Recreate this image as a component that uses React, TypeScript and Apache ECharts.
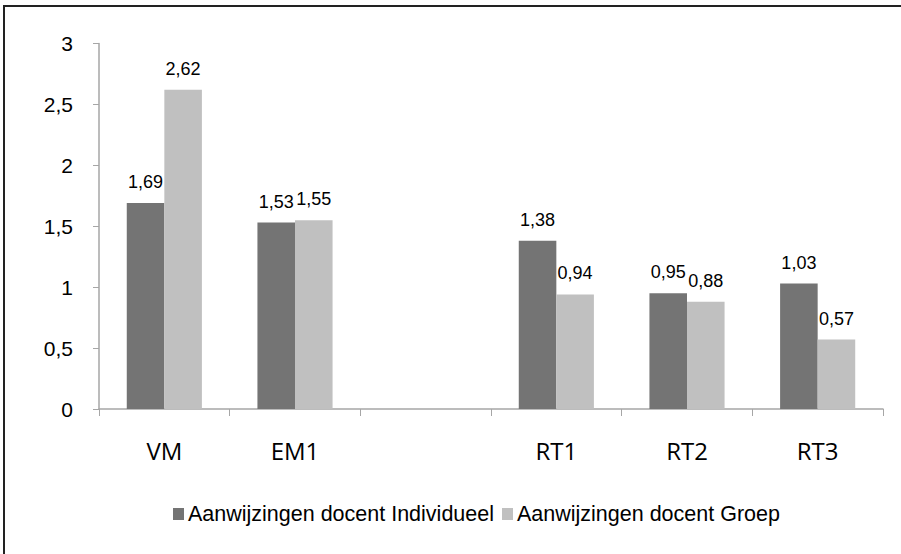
import React, { useEffect, useRef } from "react";
import * as echarts from "echarts";

const categories = ["VM", "EM1", "", "RT1", "RT2", "RT3"];
const individueel = [1.69, 1.53, null, 1.38, 0.95, 1.03];
const groep = [2.62, 1.55, null, 0.94, 0.88, 0.57];
const seriesNames = ["Aanwijzingen docent Individueel", "Aanwijzingen docent Groep"];

const fmt = (p: any) => (p.value == null ? "" : String(p.value).replace(".", ","));

export default function App() {
  const ref = useRef<HTMLDivElement>(null);
  useEffect(() => {
    const chart = echarts.init(ref.current!, null, { renderer: "svg" });
    const labelStyle = {
      show: true,
      position: "top" as const,
      distance: 12,
      formatter: fmt,
      fontFamily: "Liberation Sans, Arial",
      fontSize: 18,
      color: "#000",
    };
    chart.setOption({
      animation: false,
      backgroundColor: "#fff",
      graphic: [
        {
          type: "rect",
          shape: { x: 4, y: 6, width: 1000, height: 1000 },
          style: { fill: "none", stroke: "#222", lineWidth: 2 },
          silent: true,
        },
      ],
      grid: { left: 99, right: 18, top: 43.5, bottom: 145 },
      legend: {
        data: seriesNames,
        left: 173,
        top: 503,
        padding: 0,
        icon: "rect",
        itemWidth: 11,
        itemHeight: 12,
        itemGap: 8,
        textStyle: { fontFamily: "Liberation Sans, Arial", fontSize: 21.5, color: "#000", padding: [0, 0, 0, -1] },
      },
      xAxis: {
        type: "category",
        data: categories,
        axisLine: { lineStyle: { color: "#a6a6a6", width: 1.5 } },
        axisTick: { show: true, length: 7, lineStyle: { color: "#a6a6a6" } },
        axisLabel: { fontFamily: "Open Sans", fontSize: 24, color: "#000", margin: 29 },
      },
      yAxis: {
        type: "value",
        min: 0,
        max: 3,
        interval: 0.5,
        axisLine: { show: true, lineStyle: { color: "#a6a6a6", width: 1.5 } },
        axisTick: { show: true, length: 6, lineStyle: { color: "#a6a6a6" } },
        splitLine: { show: false },
        axisLabel: {
          fontFamily: "Liberation Sans, Arial",
          fontSize: 21,
          color: "#000",
          margin: 26,
          formatter: (v: number) => String(v).replace(".", ","),
        },
      },
      series: [
        {
          name: seriesNames[0],
          type: "bar",
          data: individueel,
          barGap: "0%",
          barCategoryGap: "42.5%",
          itemStyle: { color: "#747474" },
          label: labelStyle,
        },
        {
          name: seriesNames[1],
          type: "bar",
          data: groep,
          barGap: "0%",
          barCategoryGap: "42.5%",
          itemStyle: { color: "#c0c0c0" },
          label: labelStyle,
        },
      ],
    });
    return () => chart.dispose();
  }, []);
  return <div ref={ref} style={{ width: 901, height: 554, position: "absolute", left: 0, top: 0 }} />;
}
